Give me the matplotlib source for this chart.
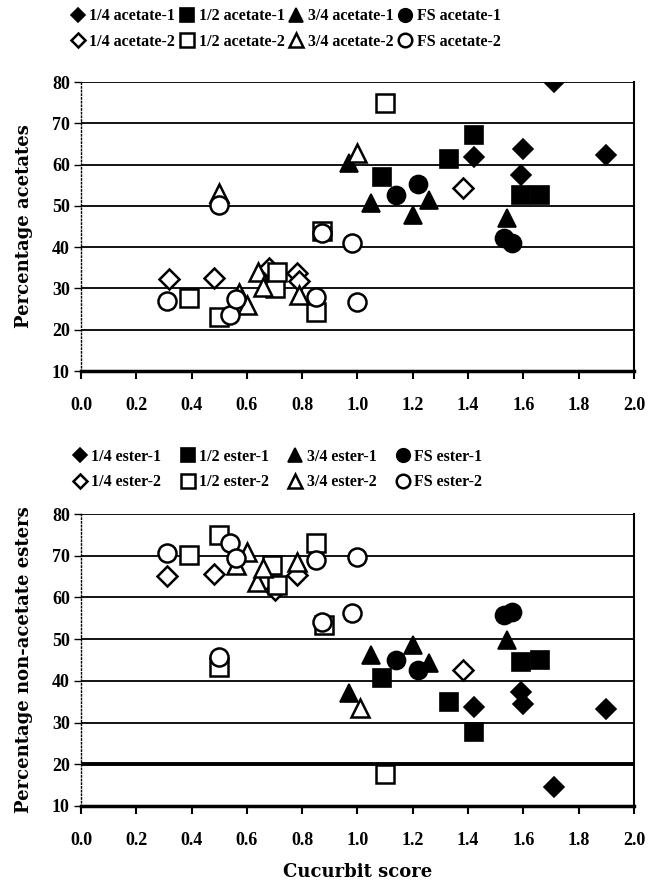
import matplotlib
matplotlib.use("Agg")
import matplotlib.pyplot as plt

# series names, markers and fill (filled = group 1, open = group 2)
sizes = ['1/4', '1/2', '3/4', 'FS']
markers = ['D', 's', '^', 'o']

# ---- acetates (top panel) ----
ac_x_1 = {
    '1/4': [1.42, 1.59, 1.60, 1.71, 1.90],
    '1/2': [1.09, 1.33, 1.42, 1.59, 1.66],
    '3/4': [0.97, 1.05, 1.20, 1.26, 1.54],
    'FS': [1.14, 1.22, 1.53, 1.56],
}
ac_y_1 = {
    '1/4': [61.9, 57.5, 63.8, 80.0, 62.3],
    '1/2': [57.0, 61.3, 67.2, 52.6, 52.6],
    '3/4': [60.4, 50.7, 47.8, 51.4, 47.1],
    'FS': [52.6, 55.3, 42.2, 41.1],
}
ac_x_2 = {
    '1/4': [0.32, 0.48, 0.68, 0.78, 0.79, 1.38],
    '1/2': [0.39, 0.50, 0.70, 0.71, 0.85, 0.87, 1.10],
    '3/4': [0.50, 0.57, 0.60, 0.64, 0.66, 0.79, 1.00],
    'FS': [0.31, 0.50, 0.54, 0.56, 0.85, 0.87, 0.98, 1.00],
}
ac_y_2 = {
    '1/4': [32.3, 32.5, 35.0, 33.8, 31.8, 54.3],
    '1/2': [27.7, 23.2, 30.1, 34.1, 24.4, 43.8, 75.0],
    '3/4': [53.1, 28.9, 26.0, 34.0, 30.4, 28.4, 62.8],
    'FS': [27.0, 50.2, 23.6, 27.4, 28.0, 43.4, 41.0, 26.7],
}

# ---- non-acetate esters (bottom panel) ----
es_x_1 = {
    '1/4': [1.42, 1.59, 1.60, 1.71, 1.90],
    '1/2': [1.09, 1.33, 1.42, 1.59, 1.66],
    '3/4': [0.97, 1.05, 1.20, 1.26, 1.54],
    'FS': [1.14, 1.22, 1.53, 1.56],
}
es_y_1 = {
    '1/4': [33.8, 37.4, 34.4, 14.5, 33.2],
    '1/2': [40.6, 35.0, 27.8, 44.6, 45.0],
    '3/4': [37.0, 46.2, 48.6, 44.2, 49.8],
    'FS': [45.0, 42.6, 55.8, 56.6],
}
es_x_2 = {
    '1/4': [0.31, 0.48, 0.70, 0.78, 1.38],
    '1/2': [0.39, 0.50, 0.50, 0.69, 0.71, 0.85, 0.88, 1.10],
    '3/4': [0.56, 0.60, 0.635, 0.66, 0.78, 1.01],
    'FS': [0.31, 0.50, 0.54, 0.56, 0.85, 0.87, 0.98, 1.00],
}
es_y_2 = {
    '1/4': [65.1, 65.6, 61.8, 65.4, 42.6],
    '1/2': [70.2, 75.0, 43.4, 67.8, 63.0, 73.1, 53.4, 17.6],
    '3/4': [67.8, 71.0, 63.8, 67.1, 68.6, 33.4],
    'FS': [70.7, 45.8, 73.1, 69.4, 69.0, 54.2, 56.2, 69.6],
}

x_ticks = [0.0, 0.2, 0.4, 0.6, 0.8, 1.0, 1.2, 1.4, 1.6, 1.8, 2.0]
y_ticks = [10, 20, 30, 40, 50, 60, 70, 80]

tick_font = {'family': 'Liberation Serif', 'weight': 'bold', 'size': 13}
label_font = {'family': 'DejaVu Serif', 'weight': 'bold', 'size': 13}

ms_size = {'D': 10, 's': 13, '^': 13, 'o': 13}

fig = plt.figure(figsize=(6.51, 8.80), dpi=100)
ax1 = fig.add_axes([0.1244, 0.5784, 0.8495, 0.3284])
ax2 = fig.add_axes([0.1244, 0.0841, 0.8495, 0.3318])


def dibujar(ax, x1, y1, x2, y2, nombre, ylabel):
    handles = []
    labels = []
    lineas1 = []
    lineas2 = []
    for s, m in zip(sizes, markers):
        l1, = ax.plot(x1[s], y1[s], linestyle='none', marker=m, ms=ms_size[m],
                      mfc='black', mec='black', mew=1.2, zorder=3)
        lineas1.append(l1)
    for s, m in zip(sizes, markers):
        l2, = ax.plot(x2[s], y2[s], linestyle='none', marker=m, ms=ms_size[m],
                      mfc='white', mec='black', mew=1.8, zorder=4)
        lineas2.append(l2)
    # orden por columnas: relleno arriba, abierto abajo
    for i, s in enumerate(sizes):
        handles += [lineas1[i], lineas2[i]]
        labels += [f'{s} {nombre}-1', f'{s} {nombre}-2']

    ax.set_xlim(0, 2.0)
    ax.set_ylim(10, 80)
    ax.set_xticks(x_ticks)
    ax.set_yticks(y_ticks)
    ax.set_xticklabels([f'{v:.1f}' for v in x_ticks], fontdict=tick_font)
    ax.set_yticklabels([str(v) for v in y_ticks], fontdict=tick_font)
    ax.tick_params(axis='x', direction='out', length=6, width=1.5, pad=13, top=False)
    ax.tick_params(axis='y', direction='out', length=5, width=1.0, pad=3, right=False)
    ax.yaxis.grid(True, color='black', lw=1.3, zorder=1)
    ax.set_axisbelow(True)
    ax.spines['top'].set_visible(False)
    ax.spines['right'].set_linewidth(1.5)
    ax.spines['left'].set_linewidth(1.0)
    ax.spines['left'].set_linestyle(':')
    ax.spines['bottom'].set_linewidth(2.5)
    ax.set_ylabel(ylabel, fontdict=label_font, labelpad=14)
    return handles, labels


h1, lab1 = dibujar(ax1, ac_x_1, ac_y_1, ac_x_2, ac_y_2, 'acetate', 'Percentage acetates')
h2, lab2 = dibujar(ax2, es_x_1, es_y_1, es_x_2, es_y_2, 'ester', 'Percentage non-acetate esters')
ax2.axhline(20, color='black', lw=2.8, zorder=1)
ax2.set_xlabel('Cucurbit score', fontdict=label_font, labelpad=10)

leg_font = {'family': 'Liberation Serif', 'weight': 'bold', 'size': 11.5}
fig.legend(h1, lab1, loc='center left', bbox_to_anchor=(0.098, 0.967), ncol=4,
           frameon=False, prop=leg_font, markerscale=0.75, handlelength=0.8,
           handletextpad=0.3, columnspacing=0.35, labelspacing=0.6, borderpad=0)
fig.legend(h2, lab2, loc='center left', bbox_to_anchor=(0.101, 0.4665), ncol=4,
           frameon=False, prop=leg_font, markerscale=0.75, handlelength=0.8,
           handletextpad=0.3, columnspacing=1.25, labelspacing=0.6, borderpad=0)

fig.savefig('out.png', dpi=100)
